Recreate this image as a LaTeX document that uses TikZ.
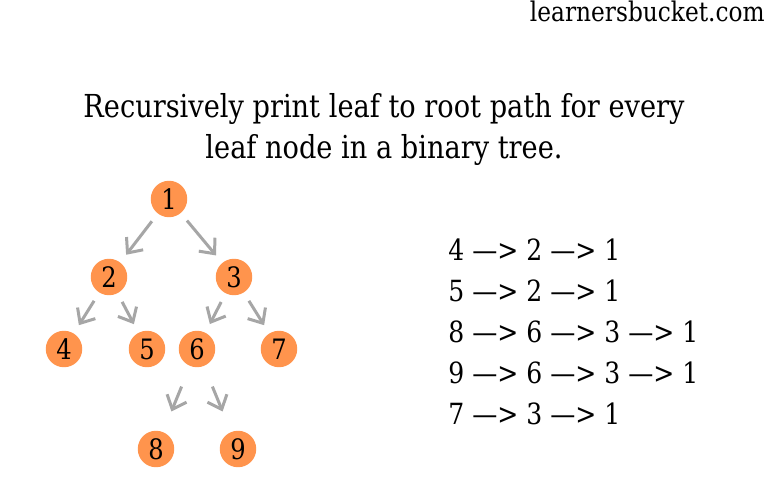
\documentclass[tikz,border=0pt]{standalone}
\usepackage{fontspec}
\setmainfont{DejaVu Serif}[FakeStretch=0.86]
\definecolor{lborange}{RGB}{255,148,77}
\definecolor{lbgray}{RGB}{166,166,166}
\usetikzlibrary{arrows.meta}

\begin{document}
\begin{tikzpicture}[
  x=0.02cm, y=-0.02cm,
  treenode/.style={circle,fill=lborange,minimum size=0.73cm,inner sep=0pt,
                   font=\fontsize{16}{16}\selectfont},
  arr/.style={-{Straight Barb[length=0.24cm,width=0.42cm]},line width=0.06cm,lbgray,
              shorten <=0.19cm,shorten >=0.19cm},
  pathline/.style={anchor=base west,inner sep=0pt,font=\fontsize{16.6}{16.6}\selectfont},
  titleline/.style={anchor=base,inner sep=0pt,font=\fontsize{18}{18}\selectfont},
]
  \useasboundingbox[fill=white] (0,0) rectangle (768,500);

  % Site name
  \node[anchor=base east,inner sep=0pt,font=\fontsize{15.4}{15.4}\selectfont] (site) at (765,22)
    {learnersbucket.com};

  % Title
  \node[titleline] (title1) at (384,118) {Recursively print leaf to root path for every};
  \node[titleline] (title2) at (384,158) {leaf node in a binary tree.};

  % Tree
  \node[treenode] (n1) at (169,199) {1};
  \node[treenode] (n2) at (109,277) {2};
  \node[treenode] (n3) at (234,277) {3};
  \node[treenode] (n4) at (64,349)  {4};
  \node[treenode] (n5) at (147,349) {5};
  \node[treenode] (n6) at (197,349) {6};
  \node[treenode] (n7) at (279,349) {7};
  \node[treenode] (n8) at (156,449) {8};
  \node[treenode] (n9) at (238,449) {9};

  % Arrows
  \draw[arr] (n1) -- (n2);
  \draw[arr] (n1) -- (n3);
  \draw[arr] (n2) -- (n4);
  \draw[arr] (n2) -- (n5);
  \draw[arr] (n3) -- (n6);
  \draw[arr] (n3) -- (n7);
  \draw[arr,shorten <=0.44cm,shorten >=0.44cm] (n6) -- (n8);
  \draw[arr,shorten <=0.44cm,shorten >=0.44cm] (n6) -- (n9);

  % Paths
  \node[pathline] (p1) at (448,260) {4 —> 2 —> 1};
  \node[pathline] (p2) at (448,301) {5 —> 2 —> 1};
  \node[pathline] (p3) at (448,342) {8 —> 6 —> 3 —> 1};
  \node[pathline] (p4) at (448,383) {9 —> 6 —> 3 —> 1};
  \node[pathline] (p5) at (448,424) {7 —> 3 —> 1};
\end{tikzpicture}
\end{document}
